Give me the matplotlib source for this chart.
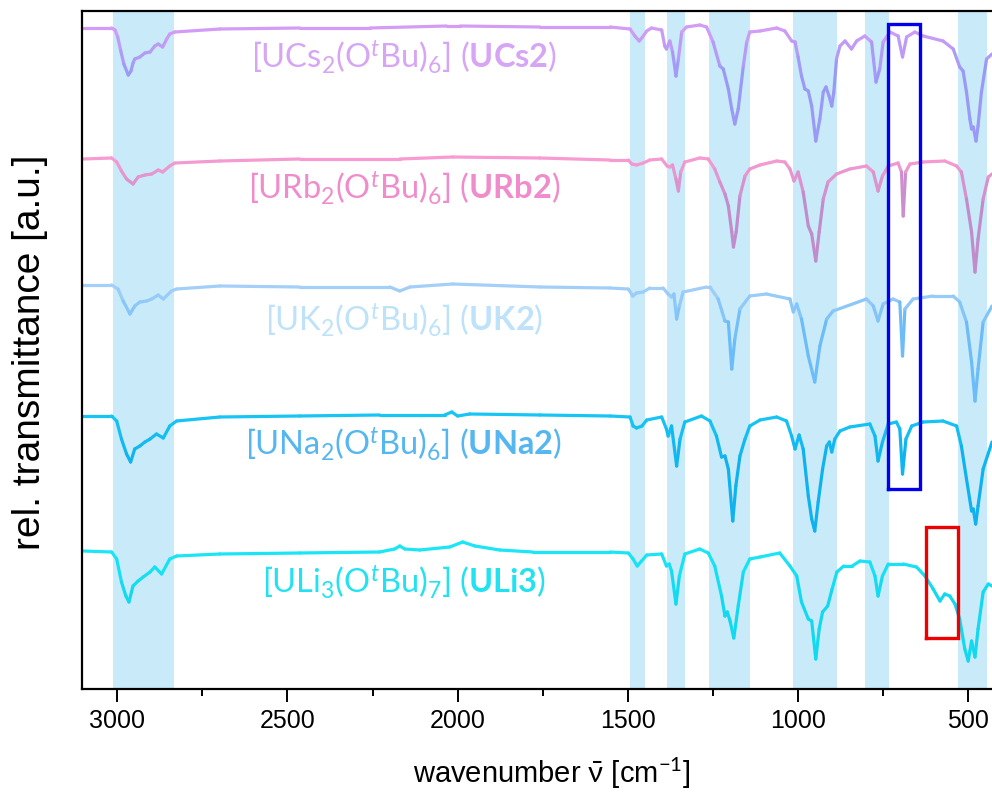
import numpy as np
import matplotlib
matplotlib.use("Agg")
import matplotlib.pyplot as plt
from matplotlib.collections import LineCollection
from matplotlib.colors import to_rgb
from matplotlib.ticker import MultipleLocator

plt.rcParams['mathtext.fontset'] = 'custom'
plt.rcParams['mathtext.rm'] = 'Lato'
plt.rcParams['mathtext.it'] = 'Lato:italic'
plt.rcParams['mathtext.bf'] = 'Lato:bold'
plt.rcParams['mathtext.fallback'] = 'stixsans'

# ---------------- data (wavenumber in cm-1, rel. transmittance in a.u., offset per trace) -------------
ucs2_wn = [3104, 3017, 3007, 2999, 2990, 2981, 2968, 2960, 2954, 2949, 2934, 2919, 2904, 2890, 2880, 2867,
           2855, 2846, 2831, 2699, 2464, 2258, 2032, 1993, 1758, 1552, 1493, 1479, 1466, 1454, 1444, 1430,
           1400, 1391, 1386, 1376, 1368, 1358, 1351, 1341, 1327, 1288, 1268, 1249, 1229, 1219, 1204, 1194,
           1185, 1175, 1160, 1150, 1141, 1111, 1062, 1038, 1018, 1008, 999, 989, 979, 969, 959, 947, 935,
           925, 917, 908, 900, 894, 886, 876, 861, 842, 827, 803, 783, 770, 759, 749, 729, 705, 692, 680,
           656, 631, 573, 543, 524, 514, 504, 494, 489, 484, 476, 470, 460, 445, 429]
ucs2_t = [6.61, 6.61, 6.59, 6.52, 6.38, 6.25, 6.14, 6.18, 6.26, 6.30, 6.32, 6.36, 6.37, 6.43, 6.45, 6.42,
          6.50, 6.55, 6.57, 6.60, 6.61, 6.61, 6.63, 6.63, 6.62, 6.62, 6.60, 6.53, 6.48, 6.53, 6.58, 6.61,
          6.59, 6.43, 6.40, 6.48, 6.37, 6.13, 6.30, 6.57, 6.62, 6.64, 6.62, 6.47, 6.23, 6.20, 6.00, 5.80,
          5.65, 5.80, 6.23, 6.47, 6.57, 6.58, 6.61, 6.58, 6.48, 6.47, 6.32, 6.13, 6.00, 5.98, 5.83, 5.48, 5.70,
          5.97, 6.02, 5.93, 5.83, 5.97, 6.30, 6.43, 6.48, 6.40, 6.48, 6.53, 6.47, 6.07, 6.20, 6.47, 6.57, 6.53, 6.32, 6.52,
          6.57, 6.53, 6.48, 6.40, 6.22, 6.18, 5.97, 5.70, 5.60, 5.62, 5.48, 5.63, 5.97, 6.30, 6.35]

urb2_wn = [3101, 3017, 3002, 2988, 2973, 2954, 2939, 2919, 2899, 2880, 2867, 2846, 2831, 2699, 2464, 2170,
           2014, 1758, 1552, 1498, 1488, 1474, 1454, 1435, 1400, 1384, 1376, 1368, 1358, 1351, 1344, 1332,
           1288, 1263, 1244, 1229, 1214, 1204, 1194, 1189, 1181, 1170, 1155, 1141, 1111, 1062, 1038, 1023,
           1011, 999, 984, 969, 959, 947, 937, 925, 911, 886, 847, 798, 778, 764, 751, 734, 705, 695, 690,
           683, 670, 631, 568, 533, 519, 504, 489, 479, 470, 455, 440, 429]
urb2_t = [5.30, 5.31, 5.27, 5.18, 5.10, 5.05, 5.12, 5.14, 5.15, 5.19, 5.17, 5.23, 5.26, 5.28, 5.30, 5.30,
          5.32, 5.31, 5.29, 5.29, 5.25, 5.24, 5.26, 5.29, 5.30, 5.23, 5.22, 5.24, 5.10, 4.98, 5.17, 5.27,
          5.31, 5.30, 5.20, 5.07, 4.95, 4.83, 4.57, 4.42, 4.57, 4.93, 5.13, 5.20, 5.24, 5.28, 5.27, 5.20,
          5.08, 5.17, 4.97, 4.63, 4.55, 4.28, 4.57, 4.90, 5.07, 5.15, 5.20, 5.23, 5.17, 4.98, 5.13, 5.23, 5.26, 5.17, 4.73,
          5.17, 5.25, 5.27, 5.28, 5.23, 5.17, 4.90, 4.57, 4.17, 4.50, 4.90, 5.12, 5.15]

uk2_wn = [3101, 3017, 2998, 2983, 2963, 2949, 2934, 2914, 2899, 2880, 2865, 2841, 2826, 2699, 2464, 2199,
          2170, 2140, 2014, 1758, 1552, 1498, 1485, 1474, 1454, 1435, 1396, 1381, 1371, 1364, 1356, 1348,
          1337, 1268, 1258, 1234, 1214, 1204, 1194, 1185, 1170, 1141, 1092, 1023, 1013, 1003, 989, 969, 950,
          935, 915, 896, 798, 778, 764, 749, 720, 700, 692, 685, 661, 602, 543, 524, 504, 489, 479, 470,
          455, 429]
uk2_t = [4.04, 4.04, 4.00, 3.88, 3.75, 3.83, 3.87, 3.88, 3.90, 3.94, 3.90, 3.98, 4.00, 4.03, 4.02, 4.02,
         3.98, 4.02, 4.05, 4.02, 4.01, 4.00, 3.93, 3.96, 3.97, 4.01, 4.01, 3.95, 3.92, 3.95, 3.70, 3.83,
         3.97, 4.02, 4.02, 3.90, 3.68, 3.67, 3.20, 3.50, 3.80, 3.93, 3.95, 3.90, 3.77, 3.85, 3.70, 3.33, 3.07,
         3.43, 3.70, 3.78, 3.90, 3.83, 3.68, 3.85, 3.90, 3.87, 3.33, 3.80, 3.90, 3.93, 3.93, 3.87, 3.67, 3.27, 2.88, 3.20,
         3.67, 3.83]

una2_wn = [3101, 3017, 3002, 2988, 2973, 2961, 2949, 2934, 2919, 2904, 2885, 2865, 2846, 2826, 2699, 2464,
           2229, 2038, 2017, 2000, 1964, 1758, 1552, 1493, 1484, 1474, 1458, 1444, 1400, 1386, 1381, 1371,
           1356, 1346, 1332, 1283, 1258, 1239, 1224, 1214, 1204, 1191, 1182, 1170, 1155, 1141, 1111, 1062,
           1033, 1018, 1008, 996, 984, 969, 959, 950, 940, 927, 915, 907, 900, 891, 876, 847, 788, 773, 764,
           751, 734, 710, 700, 692, 682, 665, 631, 573, 533, 519, 504, 489, 484, 477, 470, 455, 429]
una2_t = [2.73, 2.73, 2.68, 2.50, 2.35, 2.27, 2.40, 2.43, 2.47, 2.50, 2.55, 2.51, 2.63, 2.68, 2.72, 2.73,
          2.74, 2.74, 2.77, 2.73, 2.75, 2.74, 2.73, 2.72, 2.63, 2.61, 2.63, 2.69, 2.72, 2.60, 2.53, 2.63,
          2.23, 2.50, 2.67, 2.73, 2.68, 2.53, 2.32, 2.33, 2.20, 1.68, 2.03, 2.33, 2.50, 2.63, 2.69, 2.72,
          2.68, 2.53, 2.40, 2.54, 2.40, 1.93, 1.70, 1.58, 1.87, 2.20, 2.43, 2.47, 2.37, 2.50, 2.58, 2.62, 2.65, 2.53, 2.28,
          2.47, 2.65, 2.67, 2.60, 2.15, 2.50, 2.63, 2.67, 2.68, 2.63, 2.43, 2.10, 1.78, 1.80, 1.65, 1.83, 2.20, 2.47]

uli3_wn = [3101, 3017, 3002, 2988, 2975, 2966, 2954, 2939, 2924, 2904, 2890, 2870, 2846, 2826, 2699, 2464,
           2229, 2185, 2170, 2155, 2111, 2023, 1985, 1949, 1876, 1779, 1552, 1498, 1484, 1472, 1459, 1444,
           1400, 1386, 1378, 1371, 1358, 1348, 1332, 1288, 1263, 1244, 1224, 1214, 1207, 1199, 1188, 1175,
           1160, 1141, 1111, 1053, 1023, 1003, 989, 969, 959, 947, 937, 927, 912, 899, 885, 865, 840, 817,
           788, 773, 764, 751, 734, 690, 651, 626, 602, 582, 568, 553, 538, 524, 509, 499, 489, 479, 470,
           455, 440, 429]
uli3_t = [1.38, 1.37, 1.30, 1.07, 0.93, 0.87, 1.03, 1.08, 1.12, 1.17, 1.22, 1.15, 1.30, 1.33, 1.35, 1.36,
          1.37, 1.40, 1.43, 1.40, 1.39, 1.42, 1.47, 1.43, 1.39, 1.37, 1.37, 1.36, 1.30, 1.23, 1.28, 1.34,
          1.35, 1.23, 1.25, 1.18, 0.85, 1.13, 1.35, 1.40, 1.36, 1.23, 0.93, 0.73, 0.77, 0.68, 0.51, 0.83,
          1.17, 1.30, 1.32, 1.36, 1.23, 1.13, 0.87, 0.70, 0.68, 0.30, 0.60, 0.77, 0.83, 1.00, 1.17, 1.23, 1.23, 1.28,
          1.27, 1.13, 0.93, 1.13, 1.25, 1.25, 1.22, 1.13, 1.00, 0.88, 0.95, 0.93, 0.85, 0.70, 0.40, 0.28, 0.48, 0.32, 0.60,
          0.97, 1.05, 1.03]

compounds = ["UCs2", "URb2", "UK2", "UNa2", "ULi3"]
labels = [r"[UCs$_2$(O$^{\mathit{t}}$Bu)$_6$] ($\mathbf{UCs2}$)",
          r"[URb$_2$(O$^{\mathit{t}}$Bu)$_6$] ($\mathbf{URb2}$)",
          r"[UK$_2$(O$^{\mathit{t}}$Bu)$_6$] ($\mathbf{UK2}$)",
          r"[UNa$_2$(O$^{\mathit{t}}$Bu)$_6$] ($\mathbf{UNa2}$)",
          r"[ULi$_3$(O$^{\mathit{t}}$Bu)$_7$] ($\mathbf{ULi3}$)"]
label_y = [6.33, 5.02, 3.70, 2.46, 1.08]
label_wn = 2158

bands = [(3013, 2834), (1493, 1449), (1385, 1332), (1261, 1141), (1013, 885), (803, 732), (529, 443)]
blue_box = (735, 641, 2.00, 6.65)   # wn_left, wn_right, y_bottom, y_top
red_box = (623, 529, 0.51, 1.62)

xticks_major = [3000, 2500, 2000, 1500, 1000, 500]

# ---------------- styling -------------
line_base = ['#d59cf6', '#f79bd2', '#a3cff8', '#17c5f4', '#1ae6f6']
line_dip = ['#9a9af6', '#c08ccc', '#6bbcf8', '#0fb2ee', '#12d8f0']
label_colors = ['#d6a6f5', '#f08ccb', '#bde2fa', '#55b6f0', '#22e2f2']
band_color = '#c9eaf8'
axis_font = ['Liberation Sans Narrow', 'Liberation Sans', 'DejaVu Sans']

fig = plt.figure(figsize=(9.92, 8.03), dpi=100)
ax = fig.add_axes([82 / 992, 113 / 803, 1 - 82 / 992, (690 - 12) / 803])
ax.set_xlim(3104, 429)
ax.set_ylim(0, 6.78)

for lo, hi in bands:
    ax.axvspan(hi, lo, color=band_color, lw=0, zorder=0)

series = [(ucs2_wn, ucs2_t), (urb2_wn, urb2_t), (uk2_wn, uk2_t), (una2_wn, una2_t), (uli3_wn, uli3_t)]
for (wn, t), cb, cd in zip(series, line_base, line_dip):
    wn = np.asarray(wn, float)
    t = np.asarray(t, float)
    pts = np.column_stack([wn, t])
    segs = np.stack([pts[:-1], pts[1:]], axis=1)
    base = np.percentile(t, 90)
    depth = base - 0.5 * (t[:-1] + t[1:])
    frac = np.clip(depth / 0.45, 0, 1)[:, None]
    c0 = np.array(to_rgb(cb))
    c1 = np.array(to_rgb(cd))
    cols = c0 * (1 - frac) + c1 * frac
    lc = LineCollection(segs, colors=cols, linewidths=2.3, capstyle='round', joinstyle='round', zorder=2)
    ax.add_collection(lc)

for txt, y, c in zip(labels, label_y, label_colors):
    ax.text(label_wn, y, txt, color=c, fontsize=23.5, fontfamily='Lato',
            ha='center', va='center', zorder=3)

for (x0, x1, y0, y1), c in [(blue_box, '#0000ee'), (red_box, '#ee0000')]:
    ax.plot([x0, x1, x1, x0, x0], [y0, y0, y1, y1, y0], color=c, lw=2.4, zorder=4,
            solid_joinstyle='miter')

ax.spines['right'].set_visible(False)
for s in ['left', 'top', 'bottom']:
    ax.spines[s].set_linewidth(1.6)
ax.set_yticks([])
ax.set_xticks(xticks_major)
ax.xaxis.set_minor_locator(MultipleLocator(250))
ax.tick_params(axis='x', which='major', direction='out', length=9, width=1.4, pad=5,
               labelsize=18)
ax.tick_params(axis='x', which='minor', direction='out', length=5, width=1.4)
for lab in ax.get_xticklabels():
    lab.set_fontfamily(axis_font)

fig.text(552 / 992, 1 - 773 / 803, r"wavenumber $\bar{\mathrm{\nu}}$ [cm$^{-1}$]", ha='center', va='center',
         fontsize=21, fontfamily=axis_font)
fig.text(30 / 992, 1 - 352 / 803, "rel. transmittance [a.u.]", ha='center', va='center', rotation=90,
         fontsize=28, fontfamily=axis_font)

fig.savefig("out.png", dpi=100)
